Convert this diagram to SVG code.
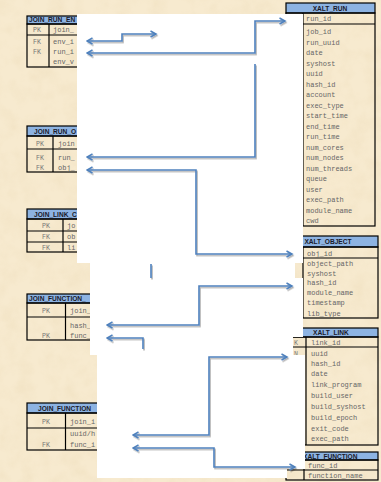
<svg xmlns="http://www.w3.org/2000/svg" width="381" height="482" viewBox="0 0 381 482">
<defs>
<filter id="parch" x="0" y="0" width="100%" height="100%">
<feTurbulence type="fractalNoise" baseFrequency="0.06" numOctaves="3" seed="4" result="n"/>
<feColorMatrix in="n" type="matrix" values="0 0 0 0 0.80  0 0 0 0 0.66  0 0 0 0 0.42  1.3 0 0 0 -0.5"/>
</filter>
<filter id="sh" x="-10%" y="-10%" width="130%" height="130%">
<feDropShadow dx="1" dy="1.5" stdDeviation="0.7" flood-color="#000" flood-opacity="0.3"/>
</filter>
<marker id="ah" viewBox="0 0 8 8" refX="6.5" refY="4" markerWidth="8" markerHeight="8" markerUnits="userSpaceOnUse" orient="auto-start-reverse">
<path d="M1,1 L6.5,4 L1,7" fill="none" stroke="#4F81BD" stroke-width="1.5"/>
</marker>
</defs>
<style>
.hd{fill:#8DB3E2;stroke:#000;stroke-width:1.2}
.bx{fill:none;stroke:#000;stroke-width:1.2}
.ln{stroke:#000;stroke-width:1.2}
.ht{font-family:"Liberation Sans",Arial,sans-serif;font-weight:bold;font-size:6.6px;fill:#1a1a2a}
.rt{font-family:"Liberation Mono","Courier New",monospace;font-size:7px;fill:#666}
.kt{font-family:"Liberation Mono","Courier New",monospace;font-size:6.6px;fill:#777;text-anchor:middle}
.cn{fill:none;stroke:#4F81BD;stroke-width:1.6}
</style>
<rect width="381" height="482" fill="#F7EACF"/>
<rect width="381" height="482" filter="url(#parch)" opacity="0.4"/>

<g id="join_run_env">
<rect class="hd" x="27" y="16" width="80" height="8"/>
<rect class="bx" x="27" y="24" width="80" height="43"/>
<line class="ln" x1="27" y1="35" x2="107" y2="35"/>
<line class="ln" x1="49" y1="24" x2="49" y2="67"/>
<text class="ht" x="29" y="22.3">JOIN_RUN_EN</text>
<text class="kt" x="37" y="32">PK</text><text class="rt" x="53" y="32">join_</text>
<text class="kt" x="37" y="43.5">FK</text><text class="rt" x="53" y="43.5">env_i</text>
<text class="kt" x="37" y="54">FK</text><text class="rt" x="53" y="54">run_i</text>
<text class="rt" x="53" y="64">env_v</text>
</g>

<g id="join_run_object">
<rect class="hd" x="27" y="126" width="80" height="10"/>
<rect class="bx" x="27" y="136" width="80" height="36"/>
<line class="ln" x1="27" y1="149" x2="107" y2="149"/>
<line class="ln" x1="53" y1="136" x2="53" y2="172"/>
<text class="ht" x="34" y="133.5">JOIN_RUN_O</text>
<text class="kt" x="40" y="146">PK</text><text class="rt" x="58" y="146">join</text>
<text class="kt" x="40" y="159.5">FK</text><text class="rt" x="58" y="159.5">run_</text>
<text class="kt" x="40" y="170">FK</text><text class="rt" x="58" y="170">obj_</text>
</g>

<g id="join_link_object">
<rect class="hd" x="27" y="209" width="80" height="10"/>
<rect class="bx" x="27" y="219" width="80" height="33"/>
<line class="ln" x1="27" y1="231" x2="107" y2="231"/>
<line class="ln" x1="27" y1="242" x2="107" y2="242"/>
<line class="ln" x1="63" y1="219" x2="63" y2="252"/>
<text class="ht" x="34" y="216.5">JOIN_LINK_C</text>
<text class="kt" x="46" y="228">PK</text><text class="rt" x="67" y="228">jo</text>
<text class="kt" x="46" y="239">FK</text><text class="rt" x="67" y="239">ob</text>
<text class="kt" x="46" y="249.5">FK</text><text class="rt" x="67" y="249.5">li</text>
</g>

<g id="join_function_a">
<rect class="hd" x="27" y="294" width="80" height="9"/>
<rect class="bx" x="27" y="303" width="80" height="37"/>
<line class="ln" x1="27" y1="317" x2="107" y2="317"/>
<line class="ln" x1="65.5" y1="303" x2="65.5" y2="340"/>
<text class="ht" x="29" y="300.8">JOIN_FUNCTION_</text>
<text class="kt" x="46" y="313">PK</text><text class="rt" x="70" y="313">join_</text>
<text class="rt" x="70" y="327.5">hash_</text>
<text class="kt" x="46" y="338">PK</text><text class="rt" x="70" y="338">func_</text>
</g>

<g id="join_function_b">
<rect class="hd" x="27" y="403" width="80" height="10"/>
<rect class="bx" x="27" y="413" width="80" height="37"/>
<line class="ln" x1="27" y1="428" x2="107" y2="428"/>
<line class="ln" x1="65.5" y1="413" x2="65.5" y2="450"/>
<text class="ht" x="38" y="410.5">JOIN_FUNCTION</text>
<text class="kt" x="46" y="424">PK</text><text class="rt" x="70" y="424">join_i</text>
<text class="rt" x="70" y="435.5">uuid/h</text>
<text class="kt" x="46" y="446.5">FK</text><text class="rt" x="70" y="446.5">func_i</text>
</g>

<g id="xalt_run">
<rect class="hd" x="286" y="3" width="89" height="10"/>
<rect class="bx" x="286" y="13" width="89" height="213"/>
<line class="ln" x1="286" y1="24" x2="375" y2="24"/>
<line class="ln" x1="303" y1="13" x2="303" y2="226"/>
<text class="ht" x="330" y="10.5" text-anchor="middle">XALT_RUN</text>
<g class="rt">
<text x="306" y="21">run_id</text>
<text x="306" y="34">job_id</text>
<text x="306" y="44.5">run_uuid</text>
<text x="306" y="55">date</text>
<text x="306" y="65.5">syshost</text>
<text x="306" y="76">uuid</text>
<text x="306" y="86.5">hash_id</text>
<text x="306" y="97">account</text>
<text x="306" y="107.5">exec_type</text>
<text x="306" y="118">start_time</text>
<text x="306" y="128.5">end_time</text>
<text x="306" y="139">run_time</text>
<text x="306" y="149.5">num_cores</text>
<text x="306" y="160">num_nodes</text>
<text x="306" y="170.5">num_threads</text>
<text x="306" y="181">queue</text>
<text x="306" y="191.5">user</text>
<text x="306" y="202">exec_path</text>
<text x="306" y="212.5">module_name</text>
<text x="306" y="223">cwd</text>
</g>
</g>

<g id="xalt_object">
<rect class="hd" x="286" y="236" width="92" height="11"/>
<rect class="bx" x="286" y="247" width="92" height="71"/>
<line class="ln" x1="286" y1="258" x2="378" y2="258"/>
<line class="ln" x1="303" y1="247" x2="303" y2="318"/>
<text class="ht" x="328" y="244" text-anchor="middle">XALT_OBJECT</text>
<g class="rt">
<text x="307" y="255.5">obj_id</text>
<text x="307" y="265.5">object_path</text>
<text x="307" y="275.5">syshost</text>
<text x="307" y="284.5">hash_id</text>
<text x="307" y="294.5">module_name</text>
<text x="307" y="304.5">timestamp</text>
<text x="307" y="315.5">lib_type</text>
</g>
</g>

<g id="xalt_link">
<rect class="hd" x="289" y="328" width="89" height="9"/>
<rect class="bx" x="289" y="337" width="89" height="108"/>
<line class="ln" x1="289" y1="347" x2="378" y2="347"/>
<line class="ln" x1="306" y1="337" x2="306" y2="445"/>
<text class="ht" x="331" y="335" text-anchor="middle">XALT_LINK</text>
<text class="kt" x="296" y="344.5">K</text>
<text class="kt" x="296" y="355.5">N</text>
<g class="rt">
<text x="311" y="344.5">link_id</text>
<text x="311" y="355.5">uuid</text>
<text x="311" y="365.5">hash_id</text>
<text x="311" y="375.5">date</text>
<text x="311" y="386.5">link_program</text>
<text x="311" y="397.5">build_user</text>
<text x="311" y="408.5">build_syshost</text>
<text x="311" y="419.5">build_epoch</text>
<text x="311" y="430.5">exit_code</text>
<text x="311" y="440.5">exec_path</text>
</g>
</g>

<g id="xalt_function">
<rect class="hd" x="286" y="452" width="92" height="8"/>
<rect class="bx" x="286" y="460" width="92" height="20"/>
<line class="ln" x1="286" y1="470" x2="378" y2="470"/>
<line class="ln" x1="304" y1="460" x2="304" y2="480"/>
<text class="ht" x="303" y="458.5">XALT_FUNCTION</text>
<g class="rt">
<text x="308" y="467.5">func_id</text>
<text x="308" y="477.5">function_name</text>
</g>
</g>

<path id="cover" d="M77,14 H303 V263 H295 V278 H303 V337 H293 V355 H305 V469 H287 V478 H97 V355 H90 V263 H77 Z" fill="#fff"/>

<g id="connectors" filter="url(#sh)">
<path class="cn" d="M87,41 H122 V34 H156" marker-start="url(#ah)" marker-end="url(#ah)"/>
<path class="cn" d="M87,53 H255 V21 H285" marker-start="url(#ah)" marker-end="url(#ah)"/>
<path class="cn" d="M255,64 V157 H87" marker-end="url(#ah)"/>
<path class="cn" d="M87,170 H196 V254 H292" marker-start="url(#ah)" marker-end="url(#ah)"/>
<path class="cn" d="M151,264 V278"/>
<path class="cn" d="M292,286 H199 V325 H107" marker-start="url(#ah)" marker-end="url(#ah)"/>
<path class="cn" d="M107,338 H143 V349" marker-start="url(#ah)"/>
<path class="cn" d="M287,357 H209 V435 H133" marker-start="url(#ah)" marker-end="url(#ah)"/>
<path class="cn" d="M133,448 H214 V467 H295" marker-start="url(#ah)" marker-end="url(#ah)"/>
</g>
</svg>
